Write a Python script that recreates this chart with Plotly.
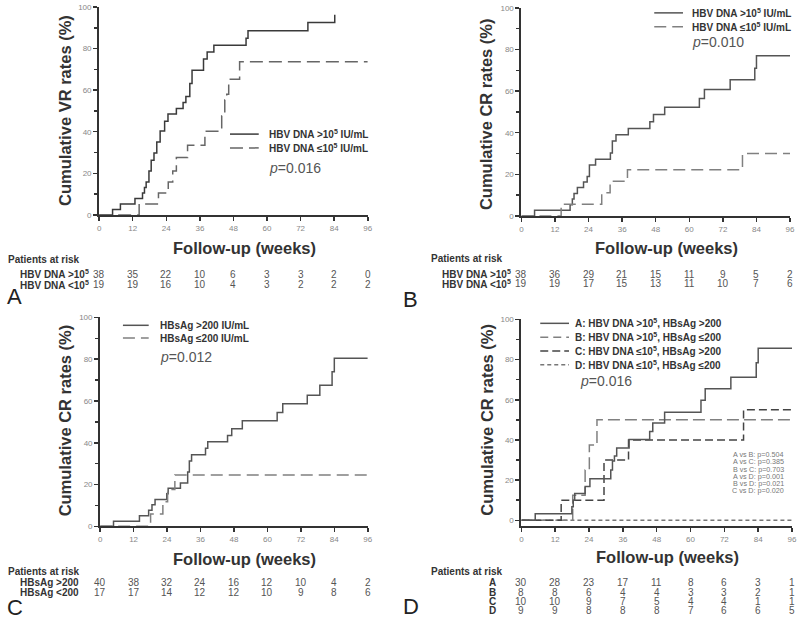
import plotly.graph_objects as go

W, H = 800, 625
FONT = "Arial, 'Liberation Sans', sans-serif"

# ---------------- data ----------------
week_ticks = [0, 12, 24, 36, 48, 60, 72, 84, 96]

# Panel A : cumulative VR by HBV DNA
a_hi_t = [0, 4.8, 7.6, 12.8, 15.5, 16.2, 16.8, 17.8, 18.6, 19.6, 20.6, 21.8, 23.4, 24.6, 27.6, 30.0, 31.0, 32.4, 33.2, 37.3, 38.6, 41.0, 52.5, 53.2, 74.6, 84.2]
a_hi_v = [0, 2.6, 5.3, 7.9, 10.5, 13.2, 15.8, 21.1, 26.3, 29.8, 35.1, 40.4, 45.0, 48.5, 51.2, 54.0, 57.0, 63.2, 69.6, 75.0, 78.3, 81.6, 85.0, 88.6, 92.5, 96.3]
a_lo_t = [0, 14.3, 21.2, 24.7, 26.3, 27.6, 31.6, 37.8, 43.8, 44.9, 45.6, 46.3, 50.2, 96]
a_lo_v = [0, 5.3, 10.5, 15.8, 21.1, 27.6, 33.5, 40.2, 47.6, 55.3, 58.0, 65.2, 73.7, 73.7]

# Panel B : cumulative CR by HBV DNA
b_hi_t = [0, 4.7, 17.4, 18.2, 18.8, 20.0, 22.2, 23.5, 24.3, 26.5, 31.8, 32.5, 33.8, 38.2, 45.9, 47.2, 51.2, 63.6, 65.4, 74.6, 83.4, 84.0, 96]
b_hi_v = [0, 2.7, 5.4, 8.1, 10.8, 13.7, 16.3, 19.0, 24.5, 27.3, 30.3, 36.0, 39.0, 42.0, 45.3, 48.7, 52.2, 56.5, 60.8, 65.5, 71.0, 77.0, 77.0]
b_lo_t = [0, 14.2, 28.7, 31.7, 37.9, 79.0, 96]
b_lo_v = [0, 5.6, 11.1, 16.7, 22.2, 30.0, 30.0]

# Panel C : cumulative CR by HBsAg
c_hi_t = [0, 4.8, 14.1, 17.4, 18.6, 19.7, 23.9, 24.4, 28.8, 31.4, 32.0, 32.8, 37.8, 38.6, 45.7, 47.2, 51.0, 63.5, 65.5, 74.3, 78.8, 83.2, 84.0, 96]
c_hi_v = [0, 2.5, 5.1, 7.7, 10.3, 12.9, 15.6, 18.2, 20.8, 26.0, 31.3, 34.3, 37.4, 40.5, 43.5, 46.7, 50.6, 54.5, 58.7, 62.8, 67.5, 74.0, 80.5, 80.5]
c_lo_t = [0, 18.1, 22.5, 24.2, 26.8, 96]
c_lo_v = [0, 5.9, 11.8, 17.6, 24.6, 24.6]

# Panel D : four groups
d_a_t = [0, 4.9, 17.9, 18.4, 18.9, 22.6, 24.3, 31.7, 32.3, 33.0, 33.8, 38.2, 45.5, 46.6, 50.8, 63.7, 65.2, 74.3, 83.3, 84.0, 96]
d_a_v = [0, 3.3, 6.7, 10.0, 13.3, 16.8, 20.7, 25.0, 29.5, 32.0, 36.0, 40.2, 44.2, 48.5, 53.8, 59.8, 65.5, 71.2, 78.4, 85.6, 85.6]
d_b_t = [0, 18.2, 22.6, 24.1, 26.8, 96]
d_b_v = [0, 12.5, 25.0, 37.5, 50.0, 50.0]
d_c_t = [0, 14.1, 29.3, 38.0, 78.8, 96]
d_c_v = [0, 10.0, 30.0, 40.0, 55.0, 55.0]
d_d_t = [0, 96]
d_d_v = [0, 0]

# Patients at risk
risk_a_hi = [38, 35, 22, 10, 6, 3, 3, 2, 0]
risk_a_lo = [19, 19, 16, 10, 4, 3, 2, 2, 2]
risk_b_hi = [38, 36, 29, 21, 15, 11, 9, 5, 2]
risk_b_lo = [19, 19, 17, 15, 13, 11, 10, 7, 6]
risk_c_hi = [40, 38, 32, 24, 16, 12, 10, 4, 2]
risk_c_lo = [17, 17, 14, 12, 12, 10, 9, 8, 6]
risk_d_a = [30, 28, 23, 17, 11, 8, 6, 3, 1]
risk_d_b = [8, 8, 6, 4, 4, 3, 3, 2, 1]
risk_d_c = [10, 10, 9, 7, 5, 4, 4, 1, 1]
risk_d_d = [9, 9, 8, 8, 8, 7, 6, 6, 5]

pairwise = ["A vs B: p=0.504", "A vs C: p=0.385", "B vs C: p=0.703",
            "A vs D: p=0.001", "B vs D: p=0.021", "C vs D: p=0.020"]

# ---------------- helpers ----------------
def px(x):
    return x / W

def py(y):
    return 1 - y / H

fig = go.Figure()
annotations = []
shapes = []

def text(x, y, s, size=10, bold=False, color="#333", xanchor="left", angle=0):
    if bold:
        s = "<b>" + s + "</b>"
    annotations.append(dict(x=px(x), y=py(y), xref="paper", yref="paper", text=s,
                            showarrow=False, xanchor=xanchor, yanchor="middle", borderpad=0,
                            textangle=angle, font=dict(family=FONT, size=size, color=color)))

def legend_line(x0, x1, y, color, dash, width=1.5):
    shapes.append(dict(type="line", xref="paper", yref="paper", x0=px(x0), x1=px(x1),
                       y0=py(y), y1=py(y), line=dict(color=color, width=width, dash=dash)))

def add_curve(t, v, color, dash, axis, width=1.5):
    fig.add_trace(go.Scatter(x=t, y=v, mode="lines", line=dict(shape="hv", color=color, dash=dash, width=width),
                             xaxis="x" + axis, yaxis="y" + axis, showlegend=False, hoverinfo="skip"))

def risk_row(values, axis, y):
    for w, n in zip(week_ticks, values):
        annotations.append(dict(x=w, y=py(y), xref="x" + axis, yref="paper", text=str(n),
                                showarrow=False, xanchor="center", yanchor="middle", borderpad=0,
                                font=dict(family=FONT, size=10, color="#555")))

def axes(n, x0, x1, ytop, ybot, yrange=(0, 100)):
    xa = dict(domain=[px(x0), px(x1)], range=[0, 96], tickvals=week_ticks, ticks="outside",
              ticklen=4, tickwidth=1.5, tickcolor="#333", showline=True, linecolor="#333",
              linewidth=2, tickfont=dict(family=FONT, size=8, color="#888"), showgrid=False,
              zeroline=False, anchor="y" + n)
    ya = dict(domain=[py(ybot), py(ytop)], range=list(yrange), tickvals=[0, 20, 40, 60, 80, 100],
              ticks="outside", ticklen=4, tickwidth=1.5, tickcolor="#333", showline=True,
              linecolor="#333", linewidth=2, tickfont=dict(family=FONT, size=8, color="#888"),
              showgrid=False, zeroline=False, anchor="x" + n,
              minor=dict(tickvals=[10, 30, 50, 70, 90], ticks="outside", ticklen=3, tickcolor="#333"))
    key = "" if n == "1" else n
    fig.update_layout(**{"xaxis" + key: xa, "yaxis" + key: ya})

# ---------------- panels ----------------
axes("1", 98, 369, 3, 214)
axes("2", 524, 795, 4, 215)
axes("3", 99, 369, 318, 530)
axes("4", 524, 797, 320, 530, (-3, 100))

DARK = "#3a3a3a"
MID = "#555555"
LIGHT = "#808080"

# Panel A
add_curve(a_hi_t, a_hi_v, DARK, "solid", "")
add_curve(a_lo_t, a_lo_v, "#666666", "13px,6px", "")
# Panel B
add_curve(b_hi_t, b_hi_v, MID, "solid", "2")
add_curve(b_lo_t, b_lo_v, LIGHT, "12px,6px", "2")
# Panel C
add_curve(c_hi_t, c_hi_v, MID, "solid", "3")
add_curve(c_lo_t, c_lo_v, LIGHT, "12px,6px", "3")
# Panel D
add_curve(d_d_t, d_d_v, "#777777", "4px,3px", "4")
add_curve(d_b_t, d_b_v, LIGHT, "12px,5px", "4")
add_curve(d_c_t, d_c_v, "#444444", "8px,4px", "4")
add_curve(d_a_t, d_a_v, MID, "solid", "4")

# Axis titles
for (cx, cy, s) in [(64, 108, "Cumulative VR rates (%)"), (489, 112, "Cumulative CR rates (%)"),
                    (63, 422, "Cumulative CR rates (%)"), (489, 422, "Cumulative CR rates (%)")]:
    text(cx, cy, s, size=16.5, bold=True, xanchor="center", angle=-90)
for (cx, cy) in [(245, 248), (670, 248), (245, 563), (671, 561)]:
    text(cx, cy, "Follow-up (weeks)", size=16.5, bold=True, xanchor="center")

# Legends
legend_line(230, 259, 132, DARK, "solid")
legend_line(230, 259, 146, "#666666", "13px,6px")
text(268, 132, "HBV DNA >10<sup>5</sup> IU/mL", size=10, bold=True)
text(268, 146, "HBV DNA ≤10<sup>5</sup> IU/mL", size=10, bold=True)
text(268, 166, "<i>p</i>=0.016", size=14, color="#555")

legend_line(658, 687, 9, MID, "solid")
legend_line(658, 687, 23, LIGHT, "12px,6px")
text(695, 9, "HBV DNA >10<sup>5</sup> IU/mL", size=10, bold=True)
text(695, 23, "HBV DNA ≤10<sup>5</sup> IU/mL", size=10, bold=True)
text(695, 39, "<i>p</i>=0.010", size=14, color="#555")

legend_line(122, 148, 326, MID, "solid")
legend_line(122, 148, 339, LIGHT, "12px,6px")
text(158, 326, "HBsAg >200 IU/mL", size=10, bold=True)
text(158, 339, "HBsAg ≤200 IU/mL", size=10, bold=True)
text(158, 358, "<i>p</i>=0.012", size=14, color="#555")

legend_line(543, 572, 324, MID, "solid")
legend_line(543, 572, 338, LIGHT, "8px,5px")
legend_line(543, 572, 352, "#444444", "8px,4px")
legend_line(543, 572, 366, "#777777", "4px,3px")
text(577, 324, "A: HBV DNA >10<sup>5</sup>, HBsAg >200", size=10, bold=True)
text(577, 338, "B: HBV DNA >10<sup>5</sup>, HBsAg ≤200", size=10, bold=True)
text(577, 352, "C: HBV DNA ≤10<sup>5</sup>, HBsAg >200", size=10, bold=True)
text(577, 366, "D: HBV DNA ≤10<sup>5</sup>, HBsAg ≤200", size=10, bold=True)
text(582, 383, "<i>p</i>=0.016", size=14, color="#555")
for i, s in enumerate(pairwise):
    text(790, 457 + i * 7.4, s, size=7.2, color="#777", xanchor="right")

# Patients at risk
text(5, 259, "Patients at risk", size=10, bold=True)
text(17, 274, "HBV DNA >10<sup>5</sup>", size=10, bold=True)
text(17, 285, "HBV DNA <10<sup>5</sup>", size=10, bold=True)
risk_row(risk_a_hi, "", 274)
risk_row(risk_a_lo, "", 285)

text(432, 258, "Patients at risk", size=10, bold=True)
text(443, 274, "HBV DNA >10<sup>5</sup>", size=10, bold=True)
text(443, 284, "HBV DNA <10<sup>5</sup>", size=10, bold=True)
risk_row(risk_b_hi, "2", 274)
risk_row(risk_b_lo, "2", 284)

text(5, 576, "Patients at risk", size=10, bold=True)
text(17, 587, "HBsAg >200", size=10, bold=True)
text(17, 597, "HBsAg <200", size=10, bold=True)
risk_row(risk_c_hi, "3", 587)
risk_row(risk_c_lo, "3", 597)

text(432, 576, "Patients at risk", size=10, bold=True)
for lab, vals, y in [("A", risk_d_a, 587), ("B", risk_d_b, 597), ("C", risk_d_c, 606), ("D", risk_d_d, 615)]:
    text(495, y, lab, size=10, bold=True, xanchor="center")
    risk_row(vals, "4", y)

# Panel letters
text(4, 297, "A", size=22, color="#222")
text(404, 300, "B", size=22, color="#222")
text(4, 612, "C", size=22, color="#222")
text(404, 611, "D", size=22, color="#222")

fig.update_layout(width=W, height=H, margin=dict(l=0, r=0, t=0, b=0),
                  paper_bgcolor="white", plot_bgcolor="white", showlegend=False,
                  annotations=annotations, shapes=shapes, font=dict(family=FONT))

fig.write_html("out.html", config={"displayModeBar": False, "staticPlot": True},
               post_script="document.body.style.margin='0px';document.body.style.overflow='hidden';")
